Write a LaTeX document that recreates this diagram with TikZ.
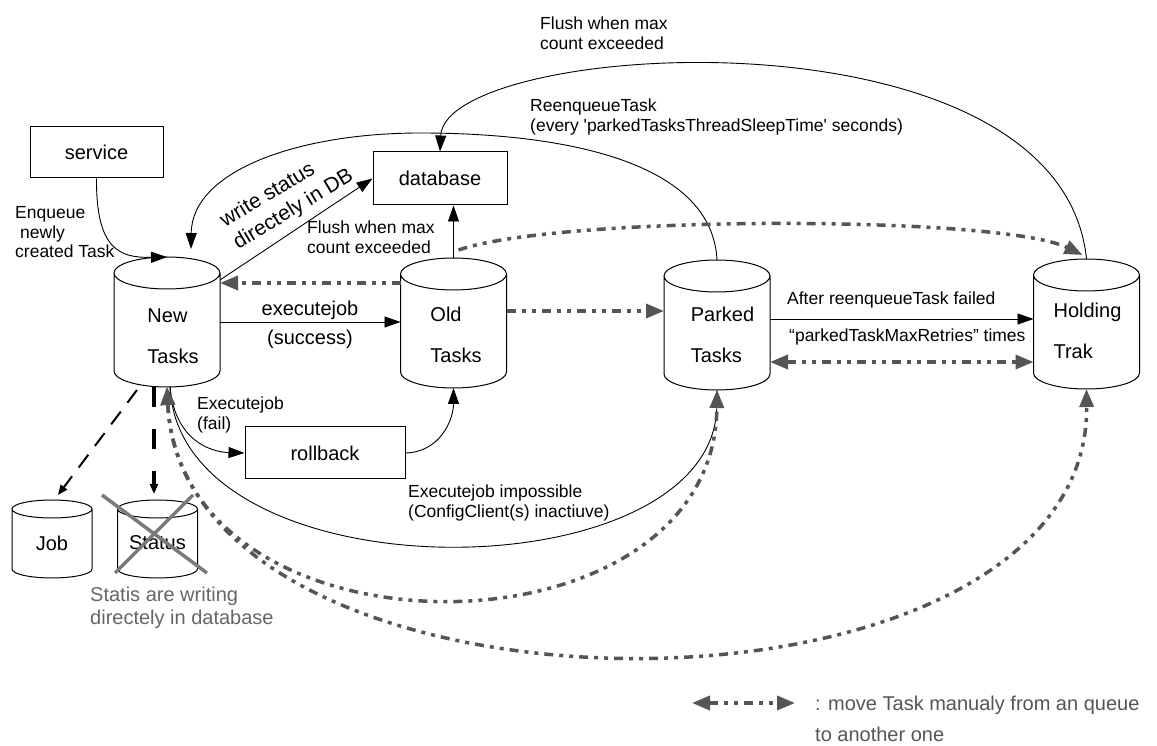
\documentclass[tikz,border=0pt]{standalone}
\usepackage{fontspec}
\setmainfont{Liberation Sans}
\usetikzlibrary{arrows.meta,calc}
\definecolor{dgray}{HTML}{555555}
\definecolor{xgray}{HTML}{7A7A7A}
\definecolor{ngray}{HTML}{666666}

% draw a vertical cylinder around an (invisible) rectangular node
\newcommand\cyldraw[3]{%
  \draw[cylline] ([yshift=-#3]#1.north west) -- ([yshift=#3]#1.south west)
    arc[start angle=180, end angle=360, x radius=#2, y radius=#3]
    -- ([yshift=-#3]#1.north east)
    arc[start angle=0, end angle=360, x radius=#2, y radius=#3];}

\tikzset{
  box/.style={draw, line width=1pt, inner sep=0pt, font=\fontsize{20}{24}\selectfont},
  cylbody/.style={rectangle, inner sep=0pt, outer sep=0pt, minimum width=106pt, minimum height=130pt},
  smallcyl/.style={rectangle, inner sep=0pt, outer sep=0pt, minimum width=80pt, minimum height=78pt},
  cylline/.style={line width=1pt},
  cyltext/.style={font=\fontsize{20}{41}\selectfont, align=left, inner sep=0pt},
  lbl/.style={font=\fontsize{17.5}{20}\selectfont, align=left, inner sep=0pt},
  arr/.style={line width=0.9pt, -{Triangle[length=16pt,width=11pt]}},
  gdot/.style={draw=dgray, line width=3.5pt, line cap=butt,
    dash pattern=on 9pt off 6pt on 4pt off 6pt on 4pt off 6pt},
  garr/.style={gdot, -{Triangle[length=18pt,width=14pt]}},
  garrb/.style={gdot, {Triangle[length=18pt,width=14pt]}-{Triangle[length=18pt,width=14pt]}},
  jobdash/.style={line width=2pt, dash pattern=on 16pt off 11pt, -{Triangle[length=10pt,width=8pt]}},
  statdash/.style={line width=3.5pt, dash pattern=on 20pt off 22pt, -{Triangle[length=10pt,width=8pt]}},
}

\begin{document}
\begin{tikzpicture}[x=1pt,y=1pt]
\fill[white] (0,0) rectangle (1157,745);
\useasboundingbox (0,0) rectangle (1157,745);

% boxes
\node[box, minimum width=133pt, minimum height=51pt] (service) at (96.5,592.5) {service};
\node[box, minimum width=134pt, minimum height=53pt] (database) at (440,566.5) {database};
\node[box, minimum width=160pt, minimum height=52pt] (rollback) at (325,292) {rollback};

% queues
\node[cylbody] (new) at (167,423) {};
\node[cylbody] (old) at (453.5,422) {};
\node[cylbody] (parked) at (717,420) {};
\node[cylbody] (holding) at (1086.5,421) {};
\node[smallcyl] (job) at (52,206) {};
\node[smallcyl] (status) at (157.5,206) {};
\cyldraw{new}{53pt}{16pt}
\cyldraw{old}{53pt}{16pt}
\cyldraw{parked}{53pt}{16pt}
\cyldraw{holding}{53pt}{16pt}
\cyldraw{job}{40pt}{9pt}
\cyldraw{status}{40pt}{9pt}

\node[cyltext] (newlbl) at ([shift={(6,-14)}]new.center) {New\\Tasks};
\node[cyltext] (oldlbl) at ([shift={(2.5,-11.5)}]old.center) {Old\\Tasks};
\node[cyltext] (parkedlbl) at ([shift={(5.5,-9.5)}]parked.center) {Parked\\Tasks};
\node[cyltext] (holdinglbl) at ([shift={(1,-6.5)}]holding.center) {Holding\\Trak};
\node[font=\fontsize{20}{24}\selectfont, inner sep=0pt] (joblbl) at ([yshift=-4pt]job.center) {Job};
\node[font=\fontsize{20}{24}\selectfont, inner sep=0pt] (statuslbl) at ([yshift=-4pt]status.center) {Status};

% status table crossed out
\draw[xgray, line width=3.5pt] ([shift={(-55.5,44)}]status.center) -- ([shift={(49.5,-34)}]status.center);
\draw[xgray, line width=3.5pt] ([shift={(35.5,44)}]status.center) -- ([shift={(-42.5,-34)}]status.center);

% solid connectors
\draw[arr] (service.south) .. controls (96,495) and (120,487) .. (new.north);
\draw[arr] ([yshift=42pt]new.east) -- (database.west);
\draw[arr] (old.north) -- (old.north |- database.south);
\draw[arr] (holding.north) .. controls (1060,745) and (445,705) .. (database.north);
\coordinate (reenqtop) at (420,612);
\draw[arr] (parked.north) .. controls (712,585) and (560,612) .. (reenqtop)
  .. controls (300,612) and (192,575) .. ([xshift=24pt,yshift=8pt]new.north);
\draw[arr] (new.east) -- (new.east -| old.west);
\coordinate (pk) at ([yshift=6pt]parked.east);
\draw[arr] (pk) -- (pk -| holding.west);
\draw[arr] ([xshift=3pt]new.south) .. controls (175,305) and (210,293) .. (rollback.west);
\draw[arr] (rollback.east) .. controls (440,293) and (453.5,325) .. (old.south);
\draw[arr] ([xshift=3pt]new.south) .. controls (180,145) and (715,150) .. (parked.south);

% dashed links to the job / status tables
\draw[jobdash] ([xshift=-30pt,yshift=-3pt]new.south) -- ([xshift=6pt,yshift=5pt]job.north);
\draw[statdash] ([xshift=-13pt]new.south) -- ([xshift=-3.5pt,yshift=6pt]status.north);

% manual moves between queues
\coordinate (on) at ([yshift=40pt]old.west);
\draw[garr] (on) -- (on -| new.east);
\coordinate (op) at ([yshift=12pt]old.east);
\draw[garr] (op) -- (op -| parked.west);
\draw[garr] ([xshift=5pt,yshift=8pt]old.north) .. controls (560,530) and (1000,530) .. ([xshift=-4pt,yshift=4pt]holding.north);
\coordinate (ph) at ([yshift=-37pt]parked.east);
\draw[garrb] (ph) -- (ph -| holding.west);
\draw[garrb] (new.south) .. controls (180,76) and (715,80) .. (parked.south);
\draw[garrb] (new.south) .. controls (185,2) and (1090,2) .. (holding.south);

% labels
\node[lbl, anchor=west] (flushtop) at (540,712) {Flush when max\\count exceeded};
\node[lbl, anchor=west] (reenqlbl) at (530,628) {ReenqueueTask\\(every \textquotesingle parkedTasksThreadSleepTime\textquotesingle\ seconds)};
\node[font=\fontsize{21}{25.5}\selectfont, rotate=31, align=left, inner sep=0pt] (wslbl) at (287,546) {write status\\directely in DB};
\node[lbl, anchor=west] (flushlbl) at (307,508) {Flush when max\\count exceeded};
\node[lbl, anchor=west, font=\fontsize{17.5}{19.5}\selectfont] (enqlbl) at (15,512.5) {Enqueue\\\hspace{5pt}newly\\created Task};
\node[font=\fontsize{20}{29}\selectfont, align=center, inner sep=0pt] (execlbl) at (310,420.5) {executejob\\(success)};
\node[lbl, anchor=west] (afterlbl) at (787,445) {After reenqueueTask failed};
\node[lbl, anchor=west] (retrylbl) at (789,408) {“parkedTaskMaxRetries” times};
\node[lbl, anchor=west] (faillbl) at (197,330) {Executejob\\(fail)};
\node[lbl, anchor=west] (implbl) at (408,242) {Executejob impossible\\(ConfigClient(s) inactiuve)};
\node[font=\fontsize{20}{23}\selectfont, text=ngray, anchor=west, align=left, inner sep=0pt] (note) at (90,137.5) {Statis are writing\\directely in database};

% legend
\coordinate (legl) at (692,42);
\coordinate (legr) at (795,42);
\draw[garrb] (legl) -- (legr);
\node[font=\fontsize{20}{24}\selectfont, text=dgray, anchor=west, inner sep=0pt] (legtxt1) at (815,40) {: move Task manualy from an queue};
\node[font=\fontsize{20}{24}\selectfont, text=dgray, anchor=west, inner sep=0pt] (legtxt2) at (815,11) {to another one};
\end{tikzpicture}
\end{document}
